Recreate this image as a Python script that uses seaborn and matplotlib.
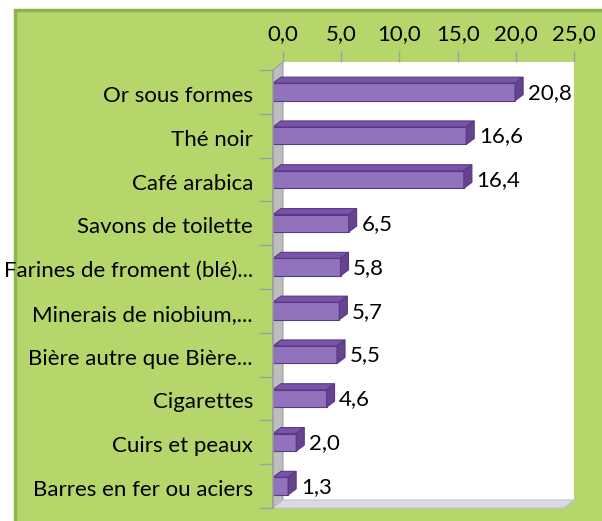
import matplotlib.pyplot as plt
import matplotlib.ticker as mticker
import matplotlib.transforms as mtransforms
from matplotlib.patches import Polygon, Rectangle
import pandas as pd
import seaborn as sns

produits = ["Or sous formes", "Thé noir", "Café arabica", "Savons de toilette",
            "Farines de froment (blé)...", "Minerais de niobium,...",
            "Bière autre que Bière...", "Cigarettes", "Cuirs et peaux",
            "Barres en fer ou aciers"]
valeurs = [20.8, 16.6, 16.4, 6.5, 5.8, 5.7, 5.5, 4.6, 2.0, 1.3]
graduations = [0, 5, 10, 15, 20, 25]

vert = "#b5d66b"
vert_bord = "#8fb34f"
violet = "#9172bd"
violet_haut = "#7853a8"
violet_cote = "#65438f"
violet_bord = "#573a83"

sns.set_theme(style="white")
plt.rcParams["font.family"] = ["Lato", "DejaVu Sans"]

W, H = 602, 521
taille = 16


def box(x0, y0, x1, y1):
    # pixel box -> figure fraction [left, bottom, width, height]
    return [x0 / W, 1 - y1 / H, (x1 - x0) / W, (y1 - y0) / H]


def fig_pt(x, y):
    return (x / W, 1 - y / H)


fig = plt.figure(figsize=(W / 100, H / 100), dpi=100, facecolor="white")

# green panel behind the chart
fig.patches.append(Rectangle(fig_pt(15, 530), 1, (530 - 10) / H,
                             transform=fig.transFigure, fc=vert, ec=vert_bord,
                             lw=2.5, zorder=-5))

# 3d walls: front plane and back plane in pixels
fx0, fy0, fx1, fy1 = 273, 70, 564, 508
dx, dy = 10, 8
bx0, by0, bx1, by1 = fx0 + dx, fy0 - dy, fx1 + dx, fy1 - dy

ax_back = fig.add_axes(box(bx0, by0, bx1, by1))
ax_back.set_zorder(-2)
ax_back.set_facecolor("white")
ax_back.set_xlim(0, 25)
ax_back.set_xticks(graduations)
ax_back.xaxis.set_major_formatter(mticker.FuncFormatter(lambda v, p: f"{v:.1f}".replace(".", ",")))
ax_back.xaxis.tick_top()
ax_back.tick_params(axis="x", top=True, bottom=False, length=8, width=1,
                    color="#a0a0a0", labelsize=taille, pad=5, labelcolor="black")
ax_back.set_yticks([])
for s in ax_back.spines.values():
    s.set_visible(False)

# left wall and floor
fig.patches.append(Polygon([fig_pt(fx0, fy0), fig_pt(bx0, by0), fig_pt(bx0, by1), fig_pt(fx0, fy1)],
                           closed=True, transform=fig.transFigure,
                           fc="#bdbdbd", ec="#9e9e9e", lw=0.8, zorder=-1))
fig.patches.append(Polygon([fig_pt(fx0, fy1), fig_pt(bx0, by1), fig_pt(bx1, by1), fig_pt(fx1, fy1)],
                           closed=True, transform=fig.transFigure,
                           fc="#dcd8e6", ec="#c4c0d0", lw=0.8, zorder=-1))

ax = fig.add_axes(box(fx0, fy0, fx1, fy1))
ax.set_zorder(1)
ax.patch.set_alpha(0)

df = pd.DataFrame({"produit": produits, "valeur": valeurs})
sns.barplot(data=df, x="valeur", y="produit", orient="h", color=violet,
            saturation=1, width=0.4, edgecolor=violet_bord, linewidth=0.8, ax=ax)

ax.set_xlim(0, 25)
ax.set_ylim(len(produits) - 0.5, -0.5)
ax.set_xlabel("")
ax.set_ylabel("")
ax.set_xticks([])

# depth of the bars in data units
px_x = (fx1 - fx0) / 25
px_y = (fy1 - fy0) / len(produits)
ddx = 8 / px_x
ddy = 6 / px_y

for i, v in enumerate(valeurs):
    haut = i - 0.2
    bas = i + 0.2
    ax.add_patch(Polygon([(0, haut), (v, haut), (v + ddx, haut - ddy), (ddx, haut - ddy)],
                         closed=True, fc=violet_haut, ec=violet_bord, lw=0.8))
    ax.add_patch(Polygon([(v, haut), (v + ddx, haut - ddy), (v + ddx, bas - ddy), (v, bas)],
                         closed=True, fc=violet_cote, ec=violet_bord, lw=0.8))
    ax.text(v + ddx + 0.4, i + 0.02, f"{v:.1f}".replace(".", ","),
            va="center", ha="left", fontsize=taille, color="black")

# category labels, a little lower than the bars as in the original
trans_lab = mtransforms.blended_transform_factory(ax.transAxes, ax.transData) + \
    mtransforms.ScaledTranslation(-20 / 100, -4 / 100, fig.dpi_scale_trans)
for i, nom in enumerate(produits):
    ax.text(0, i, nom, transform=trans_lab, ha="right", va="center",
            fontsize=taille, color="black")
ax.set_yticklabels([])

for s in ["top", "right", "bottom"]:
    ax.spines[s].set_visible(False)
ax.spines["left"].set_color("#a0a0a0")
ax.set_yticks([i - 0.5 for i in range(len(produits) + 1)], minor=True)
ax.tick_params(axis="y", which="minor", length=10, color="#a0a0a0", left=True)
ax.tick_params(axis="y", which="major", length=0)

fig.savefig("out.png", dpi=100, facecolor="white")
